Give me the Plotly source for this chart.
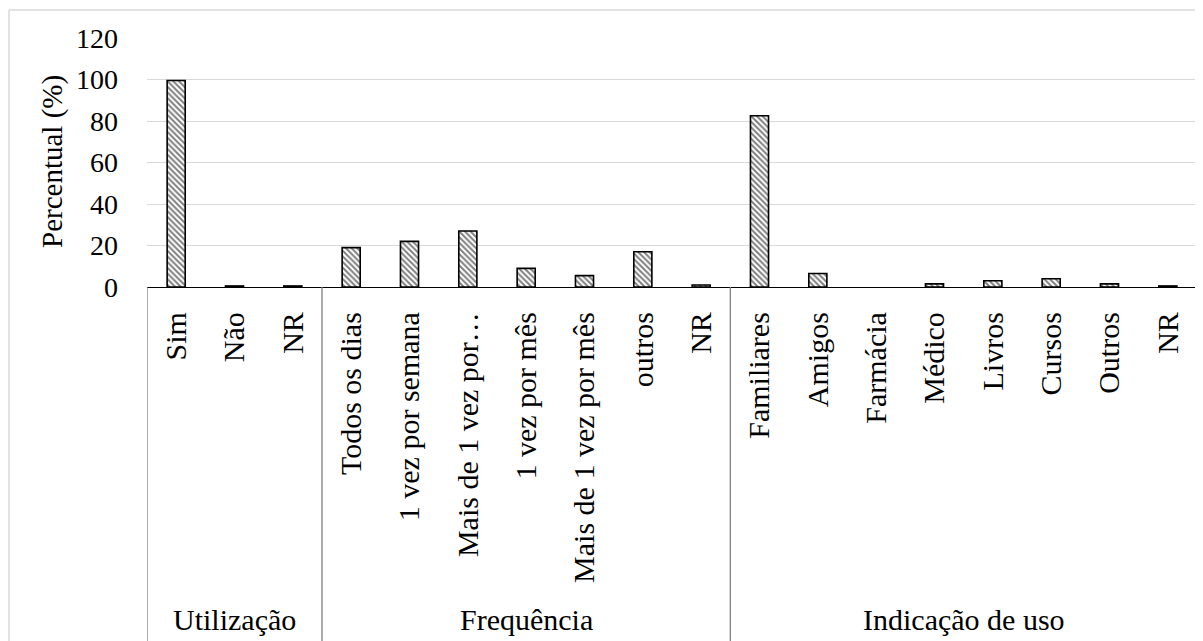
import plotly.graph_objects as go

categories = ["Sim", "Não", "NR",
              "Todos os dias", "1 vez por semana", "Mais de 1 vez por…", "1 vez por mês",
              "Mais de 1 vez por mês", "outros", "NR",
              "Familiares", "Amigos", "Farmácia", "Médico", "Livros", "Cursos", "Outros", "NR"]
values = [99.5, 0.5, 0.5,
          19, 22, 27, 9, 5.5, 17, 1,
          82.5, 6.5, 0, 1.5, 3, 4, 1.5, 0.5]
groups = ["Utilização", "Frequência", "Indicação de uso"]
group_sizes = [3, 7, 8]
y_ticks = [0, 20, 40, 60, 80, 100, 120]

FONT = "Liberation Serif"
x = list(range(len(categories)))
line_w = [1.6 if v > 0 else 0 for v in values]

fig = go.Figure(go.Bar(
    x=x, y=values, width=0.31,
    marker=dict(color="white", line=dict(color="black", width=line_w),
                pattern=dict(shape="\\", size=4, solidity=0.5, fgcolor="black", bgcolor="white")),
    showlegend=False,
))

# page is offset by 8px body margin; work in figure coordinates
OFF = 8
W, H = 1203 - OFF, 641 - OFF
ml, mr, mt, mb = 147 - OFF, W - (1197 - OFF), 38 - OFF, H - (287 - OFF)
pw, ph = W - ml - mr, H - mt - mb

def px_x(px):  # page px -> paper
    return (px - OFF - ml) / pw

def px_y(py):
    return (H - mb - (py - OFF)) / ph

shapes = []
bounds = [-0.5]
acc = -0.5
for s in group_sizes:
    acc += s
    bounds.append(acc)
for b in bounds:
    shapes.append(dict(type="line", xref="x", yref="paper", x0=b, x1=b,
                       y0=0, y1=px_y(660), line=dict(color="#7f7f7f", width=1.3)))
# outer chart border (light gray)
shapes.append(dict(type="line", xref="paper", yref="paper", x0=px_x(9), x1=px_x(1220),
                   y0=px_y(10), y1=px_y(10), line=dict(color="#d9d9d9", width=1.5)))
shapes.append(dict(type="line", xref="paper", yref="paper", x0=px_x(9), x1=px_x(9),
                   y0=px_y(10), y1=px_y(660), line=dict(color="#d9d9d9", width=1.5)))

annotations = []
for i, g in enumerate(groups):
    cx = (bounds[i] + bounds[i + 1]) / 2
    annotations.append(dict(x=cx, xref="x", y=px_y(620), yref="paper", text=g,
                            showarrow=False, font=dict(family=FONT, size=30, color="black"),
                            xanchor="center", yanchor="middle"))
annotations.append(dict(x=px_x(52), xref="paper", y=px_y(162), yref="paper", text="Percentual (%)",
                        textangle=-90, showarrow=False, font=dict(family=FONT, size=29, color="black"),
                        xanchor="center", yanchor="middle"))

fig.update_layout(
    width=W, height=H,
    margin=dict(l=ml, r=mr, t=mt, b=mb, autoexpand=False),
    paper_bgcolor="white", plot_bgcolor="white",
    font=dict(family=FONT, size=28, color="black"),
    bargap=0.69,
    shapes=shapes, annotations=annotations,
    xaxis=dict(range=[-0.5, len(categories) - 0.5], tickmode="array", tickvals=x, ticktext=categories,
               tickangle=-90, showgrid=False, showline=True, linecolor="black", linewidth=1.3,
               ticks="", ticklabelstandoff=12,
               tickfont=dict(family=FONT, size=30, color="black"), zeroline=False),
    yaxis=dict(range=[0, 120], tickvals=y_ticks, showgrid=True, gridcolor="#d9d9d9", gridwidth=1.3,
               zeroline=False, showline=False, ticks="", ticklabelstandoff=28,
               tickfont=dict(family=FONT, size=28, color="black")),
)

fig.write_html("out.html")
